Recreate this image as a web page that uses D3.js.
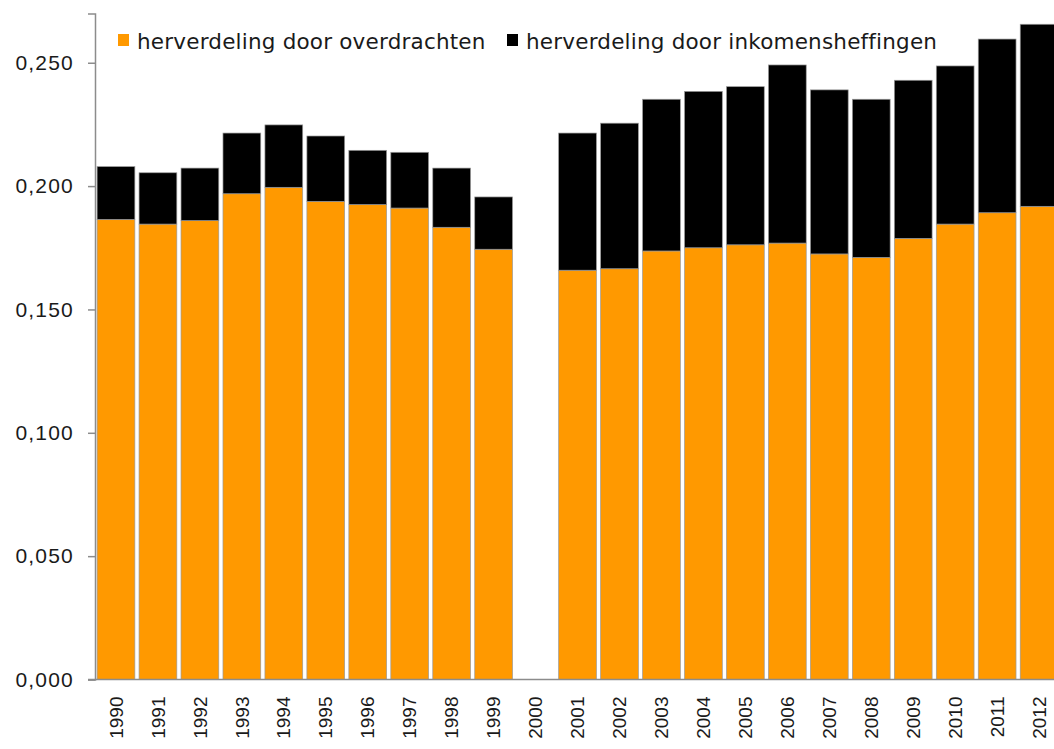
<!DOCTYPE html>
<html>
<head>
<meta charset="utf-8">
<script src="https://cdn.jsdelivr.net/npm/d3@7"></script>
<style>
  body { margin: 0; background: #fff; }
  svg { display: block; font-family: "DejaVu Sans", Verdana, sans-serif; }
  .tick-label { font-size: 21px; letter-spacing: 1.2px; fill: #1a1a1a; }
  .year-label { font-size: 19px; letter-spacing: 0px; fill: #1a1a1a; }
  .legend-text { font-size: 21.5px; letter-spacing: 0.2px; fill: #1a1a1a; }
</style>
</head>
<body>
<div id="chart"></div>
<script>

// years on the x axis, 2000 has no data
const years = ['1990','1991','1992','1993','1994','1995','1996','1997','1998','1999','2000',
  '2001','2002','2003','2004','2005','2006','2007','2008','2009','2010','2011','2012']

// herverdeling door overdrachten (orange, bottom)
const overdrachten = [0.1865,0.1846,0.1860,0.1969,0.1995,0.1938,0.1925,0.1911,0.1833,0.1744,null,
  0.1659,0.1665,0.1737,0.1750,0.1762,0.1769,0.1725,0.1711,0.1788,0.1846,0.1892,0.1918]

// herverdeling door inkomensheffingen (black, on top)
const inkomensheffingen = [0.0214,0.0208,0.0213,0.0246,0.0253,0.0265,0.0220,0.0226,0.0240,0.0212,null,
  0.0556,0.0590,0.0615,0.0634,0.0641,0.0722,0.0665,0.0641,0.0641,0.0641,0.0704,0.0738]

const yTicks = [0, 0.05, 0.10, 0.15, 0.20, 0.25]

const seriesNames = ['herverdeling door overdrachten', 'herverdeling door inkomensheffingen']
const colors = ['#ff9900', '#000000']

const width = 1054, height = 749;

const svg = d3.select('#chart').append('svg')
  .attr('width', width)
  .attr('height', height)

const rows = years.map((y, i) => ({ year: y, a: overdrachten[i] || 0, b: inkomensheffingen[i] || 0 }))

const stack = d3.stack().keys(['a', 'b'])
const layers = stack(rows)

let xScale = d3.scaleBand()
  .domain(years)
  .range([95, 95 + 23 * 41.96])
  .paddingInner(0.1)
  .paddingOuter(0.05)

let yScale = d3.scaleLinear()
  .domain([0, 0.27])
  .range([679.5, 13.4])

const fmt = v => d3.format('.3f')(v).replace('.', ',')

// bars
svg.append('g')
  .selectAll('g')
  .data(layers)
  .join('g')
  .attr('fill', (d, i) => colors[i])
  .selectAll('rect')
  .data(d => d.filter(p => p.data.a + p.data.b > 0))
  .join('rect')
  .attr('x', d => xScale(d.data.year))
  .attr('width', xScale.bandwidth())
  .attr('y', d => yScale(d[1]))
  .attr('height', d => yScale(d[0]) - yScale(d[1]))
  .attr('stroke', '#9a9a9a')
  .attr('stroke-width', 0.7)

// y axis
const yAxis = svg.append('g')
  .attr('transform', 'translate(95,0)')
  .call(d3.axisLeft(yScale).tickValues(yTicks).tickFormat(fmt).tickSize(7).tickPadding(14))

yAxis.select('.domain').attr('stroke', '#8c8c8c').attr('stroke-width', 1.5)
yAxis.selectAll('.tick line').attr('stroke', '#8c8c8c').attr('stroke-width', 1.5)
yAxis.selectAll('.tick text').attr('class', 'tick-label').attr('font-family', null).attr('font-size', null)

// x axis baseline
const xAxis = svg.append('g')
  .attr('transform', 'translate(0,' + yScale(0) + ')')
  .call(d3.axisBottom(xScale).tickSize(0).tickPadding(0))

xAxis.select('.domain')
  .attr('d', 'M88,0H' + width)
  .attr('stroke', '#8c8c8c')
  .attr('stroke-width', 1.5)

xAxis.selectAll('.tick text')
  .attr('class', 'year-label')
  .attr('font-family', null).attr('font-size', null)
  .attr('transform', 'translate(0,17) rotate(-90)')
  .attr('text-anchor', 'end')
  .attr('dy', '0.35em')
  .attr('y', 0)
  .attr('x', 0)

// legend
const legendX = [118, 507]
const legend = svg.append('g')

seriesNames.map((name, i) => {
  legend.append('rect')
    .attr('x', legendX[i])
    .attr('y', 34)
    .attr('width', 11)
    .attr('height', 12)
    .attr('fill', colors[i])

  legend.append('text')
    .attr('class', 'legend-text')
    .attr('x', legendX[i] + 19)
    .attr('y', 49)
    .text(name)
})

</script>
</body>
</html>
